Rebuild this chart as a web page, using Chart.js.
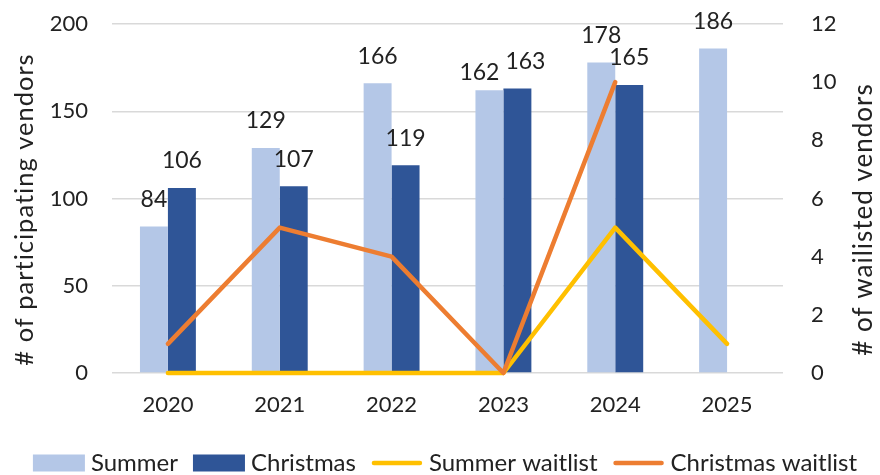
<!DOCTYPE html>
<html>
<head>
<meta charset="utf-8">
<script src="https://cdn.jsdelivr.net/npm/chart.js@4.4.1/dist/chart.umd.min.js"></script>
<style>
  html, body { margin: 0; padding: 0; background: #fff; }
  #wrap { width: 880px; height: 475px; }
</style>
</head>
<body>
<div id="wrap"><canvas id="c" width="880" height="475"></canvas></div>
<script>
// Vendor counts per market season
const years = ['2020', '2021', '2022', '2023', '2024', '2025'];
const summerVendors = [84, 129, 166, 162, 178, 186];
const christmasVendors = [106, 107, 119, 163, 165, null];
const summerWaitlist = [0, 0, 0, 0, 5, 1];
const christmasWaitlist = [1, 5, 4, 0, 10, null];
const leftTicks = [0, 50, 100, 150, 200];
const rightTicks = [0, 2, 4, 6, 8, 10, 12];
const leftTitle = '# of participating vendors';
const rightTitle = '# of wailisted vendors';

const FONT = 'Lato, "Open Sans", sans-serif';
const TEXT = '#222222';

// Small nudges so neighbouring value labels do not collide: [datasetIndex, pointIndex, dx, dy]
const labelNudges = [[0, 3, -10, 9], [1, 3, 8, 0]];

// Value labels above each bar
const barValueLabels = {
  id: 'barValueLabels',
  afterDatasetsDraw(chart) {
    const ctx = chart.ctx;
    ctx.save();
    ctx.font = '23px ' + FONT;
    ctx.fillStyle = TEXT;
    ctx.textAlign = 'center';
    ctx.textBaseline = 'middle';
    chart.data.datasets.forEach((ds, i) => {
      if (ds.type !== 'bar') return;
      const meta = chart.getDatasetMeta(i);
      meta.data.forEach((el, j) => {
        const v = ds.data[j];
        if (v === null || v === undefined) return;
        let dx = 0, dy = 0;
        labelNudges.forEach(n => { if (n[0] === i && n[1] === j) { dx = n[2]; dy = n[3]; } });
        ctx.fillText(String(v), el.x + dx, el.y - 27 + dy);
      });
    });
    ctx.restore();
  }
};

// Rotated axis titles, both reading bottom-to-top
const axisTitles = {
  id: 'axisTitles',
  afterDraw(chart) {
    const ctx = chart.ctx;
    const area = chart.chartArea;
    const mid = (area.top + area.bottom) / 2;
    ctx.save();
    ctx.fillStyle = TEXT;
    ctx.textAlign = 'center';
    ctx.textBaseline = 'middle';
    ctx.font = '25.5px ' + FONT;
    ctx.letterSpacing = '1px';
    ctx.translate(25, mid + 11);
    ctx.rotate(-Math.PI / 2);
    ctx.fillText(leftTitle, 0, 0);
    ctx.restore();

    ctx.save();
    ctx.fillStyle = TEXT;
    ctx.textAlign = 'center';
    ctx.textBaseline = 'middle';
    ctx.font = '26px ' + FONT;
    ctx.letterSpacing = '1px';
    ctx.translate(chart.width - 16, mid + 21);
    ctx.rotate(-Math.PI / 2);
    ctx.fillText(rightTitle, 0, 0);
    ctx.restore();
  }
};

// Legend row along the bottom edge
const bottomLegend = {
  id: 'bottomLegend',
  afterDraw(chart) {
    const ctx = chart.ctx;
    const boxW = 52, boxH = 17, gap = 6, spacing = 15;
    const cy = chart.height - 12;
    ctx.save();
    ctx.font = '24px ' + FONT;
    ctx.textBaseline = 'middle';
    ctx.textAlign = 'left';
    const items = chart.data.datasets.map(ds => ({
      text: ds.label,
      color: ds.type === 'bar' ? ds.backgroundColor : ds.borderColor,
      isLine: ds.type === 'line',
      w: ctx.measureText(ds.label).width
    }));
    const total = items.reduce((s, it) => s + boxW + gap + it.w, 0) + spacing * (items.length - 1);
    let x = 445 - total / 2;
    items.forEach(it => {
      if (it.isLine) {
        ctx.strokeStyle = it.color;
        ctx.lineWidth = 4.5;
        ctx.lineCap = 'round';
        ctx.beginPath();
        ctx.moveTo(x + 3, cy);
        ctx.lineTo(x + boxW - 3, cy);
        ctx.stroke();
      } else {
        ctx.fillStyle = it.color;
        ctx.fillRect(x, cy - boxH / 2, boxW, boxH);
      }
      ctx.fillStyle = TEXT;
      ctx.fillText(it.text, x + boxW + gap, cy);
      x += boxW + gap + it.w + spacing;
    });
    ctx.restore();
  }
};

new Chart(document.getElementById('c'), {
  data: {
    labels: years,
    datasets: [
      { type: 'bar', label: 'Summer', data: summerVendors, yAxisID: 'y',
        backgroundColor: '#b4c7e7', borderWidth: 0, order: 2,
        categoryPercentage: 0.5, barPercentage: 1.0 },
      { type: 'bar', label: 'Christmas', data: christmasVendors, yAxisID: 'y',
        backgroundColor: '#2f5597', borderWidth: 0, order: 2,
        categoryPercentage: 0.5, barPercentage: 1.0 },
      { type: 'line', label: 'Summer waitlist', data: summerWaitlist, yAxisID: 'y1',
        borderColor: '#ffc000', backgroundColor: '#ffc000', borderWidth: 4.5,
        borderCapStyle: 'round', borderJoinStyle: 'round', clip: false,
        pointRadius: 0, tension: 0, order: 1 },
      { type: 'line', label: 'Christmas waitlist', data: christmasWaitlist, yAxisID: 'y1',
        borderColor: '#ed7d31', backgroundColor: '#ed7d31', borderWidth: 4.5,
        borderCapStyle: 'round', borderJoinStyle: 'round', clip: false,
        pointRadius: 0, tension: 0, order: 0 }
    ]
  },
  options: {
    responsive: false,
    animation: false,
    layout: { padding: { top: 24, left: 0, right: 0, bottom: 0 } },
    plugins: {
      tooltip: { enabled: false },
      legend: { display: false }
    },
    scales: {
      x: {
        grid: { display: false, drawTicks: false },
        border: { display: false },
        ticks: { color: TEXT, font: { family: FONT, size: 22 }, padding: 19 },
        afterFit: s => { s.height = 102; }
      },
      y: {
        position: 'left',
        min: 0, max: 200,
        afterBuildTicks: s => { s.ticks = leftTicks.map(v => ({ value: v })); },
        grid: { color: '#d9d9d9', lineWidth: 1.5, drawTicks: true,
                tickLength: 24, tickColor: 'rgba(0,0,0,0)' },
        border: { display: false },
        ticks: { color: TEXT, font: { family: FONT, size: 22 }, padding: 0 },
        afterFit: s => { s.width = 112; }
      },
      y1: {
        position: 'right',
        min: 0, max: 12,
        afterBuildTicks: s => { s.ticks = rightTicks.map(v => ({ value: v })); },
        grid: { display: true, drawOnChartArea: false, color: 'rgba(0,0,0,0)',
                drawTicks: true, tickLength: 28, tickColor: 'rgba(0,0,0,0)' },
        border: { display: false },
        ticks: { color: TEXT, font: { family: FONT, size: 22 }, padding: 0 },
        afterFit: s => { s.width = 97; }
      }
    }
  },
  plugins: [barValueLabels, axisTitles, bottomLegend]
});
</script>
</body>
</html>
